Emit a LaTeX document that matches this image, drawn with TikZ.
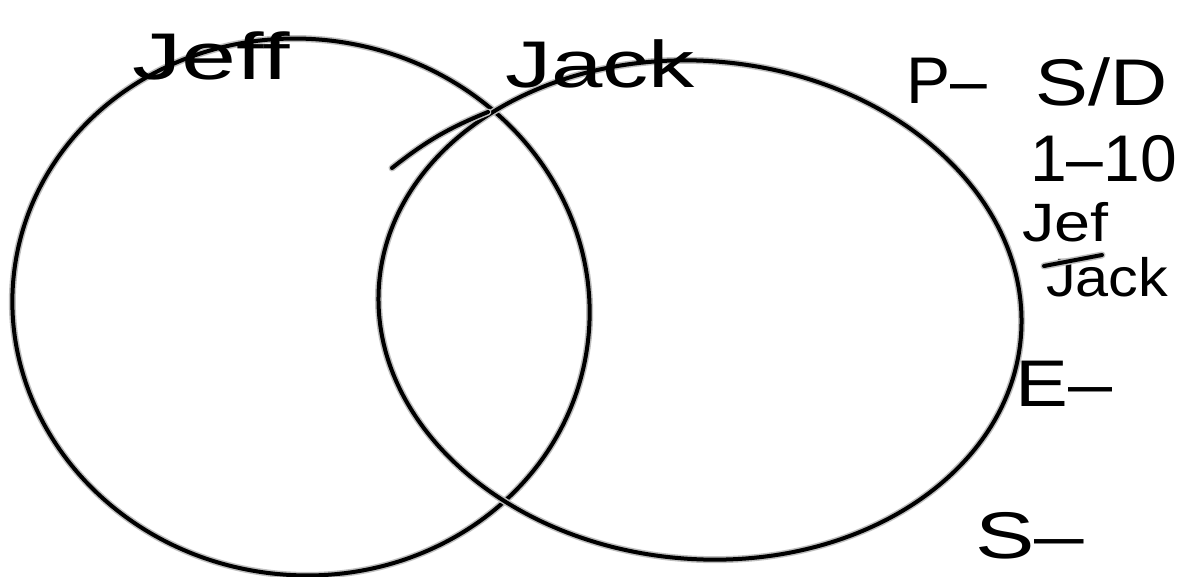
\documentclass[tikz,border=0pt]{standalone}
\usepackage{fontspec}
\setsansfont{Liberation Sans}
\usetikzlibrary{positioning}
\newcommand{\widen}[2]{\scalebox{#1}[1]{#2}}

\begin{document}
\begin{tikzpicture}[
    x=1pt,y=-1pt,
    node distance=2pt,
    pen/.style={draw=black,line width=4pt,line cap=round,preaction={draw=gray!50,line width=7pt,line cap=round}},
    scrawl/.style={font=\sffamily\fontsize{66}{66}\selectfont,inner sep=0pt,anchor=base west},
    small scrawl/.style={scrawl,font=\sffamily\fontsize{54}{54}\selectfont}
]
\useasboundingbox (0,0) rectangle (1196,577);
% the two sets
\draw[pen] (301,307) ellipse [x radius=289,y radius=268,rotate=-8];
\draw[pen] (700,310) ellipse [x radius=322,y radius=249,rotate=-5];
\draw[pen] (392,168) to[bend left=8] (488,112);
% set names
\node[scrawl] (jeff) at (132,80) {\widen{1.5}{Jeff}};
\node[scrawl] (jack) at (505,88) {\widen{1.4}{Jack}};
% notes on the right
\node[scrawl] (p) at (906,104) {\widen{1.0}{P--}};
\node[scrawl] (sd) at (1035,106) {\widen{1.2}{S/D}};
\node[scrawl] (range) at (1030,182) {\widen{1.0}{1--10}};
\node[small scrawl] (jef) at (1022,242) {\widen{1.2}{Jef}};
\node[small scrawl] (jack2) at (1046,296) {\widen{1.1}{Jack}};
\draw[pen] (1044,266) coordinate (barl) -- (1102,255) coordinate (barr);
\node[scrawl] (e) at (1015,406) {\widen{1.2}{E--}};
\node[scrawl] (s) at (975,558) {\widen{1.35}{S--}};
\end{tikzpicture}
\end{document}
